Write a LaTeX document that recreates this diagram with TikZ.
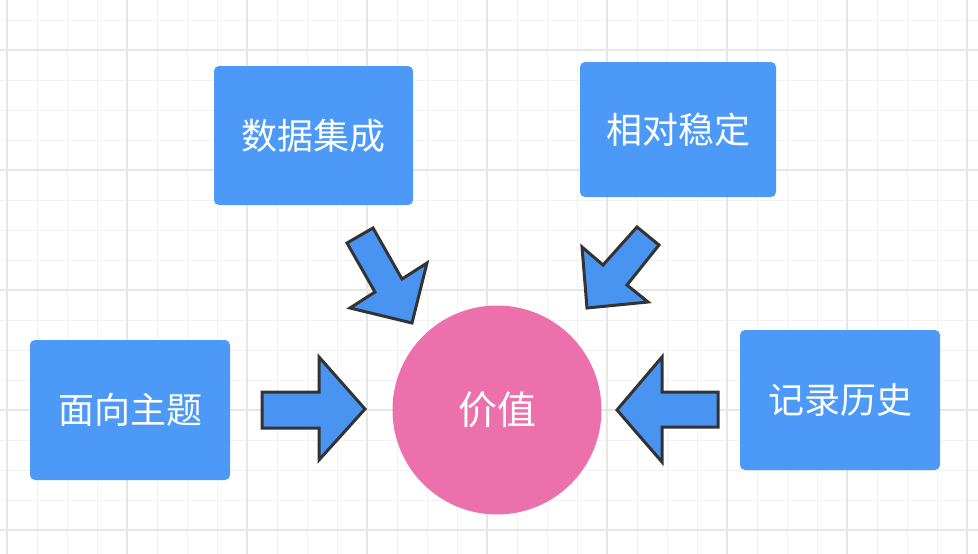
\documentclass[tikz,border=0pt]{standalone}
\usepackage{fontspec}
\newfontfamily\cjk{Noto Sans CJK SC}
\definecolor{boxblue}{HTML}{4C99F7}
\definecolor{arrowblue}{HTML}{4A94F1}
\definecolor{arrowedge}{HTML}{333333}
\definecolor{rosepink}{HTML}{EC70AC}
\definecolor{gridminor}{HTML}{F2F2F2}
\definecolor{gridmajor}{HTML}{E6E6E6}
\begin{document}
\begin{tikzpicture}[x=1pt,y=-1pt,
  topic/.style={rectangle, rounded corners=5pt, fill=boxblue, text=white,
    inner sep=0pt, font=\cjk\fontsize{36}{40}\selectfont},
  hub/.style={circle, fill=rosepink, text=white, inner sep=0pt,
    minimum size=209pt, font=\cjk\fontsize{39}{44}\selectfont},
  blockarrow/.style={draw=arrowedge, line width=3pt, fill=arrowblue, line join=miter},
  gridfine/.style={draw=gridminor, line width=1pt},
  gridbold/.style={draw=gridmajor, line width=1.5pt}]
\useasboundingbox (0,0) rectangle (978,554);
\fill[white] (0,0) rectangle (978,554);

% background grid
\foreach \x in {7,37,...,977} \draw[gridfine] (\x,0) -- (\x,554);
\foreach \y in {20,50,...,550} \draw[gridfine] (0,\y) -- (978,\y);
\foreach \x in {7,127,...,977} \draw[gridbold] (\x,0) -- (\x,554);
\foreach \y in {50,170,...,550} \draw[gridbold] (0,\y) -- (978,\y);

% topic boxes and the central value
\node[topic, minimum width=199pt, minimum height=139pt] (integ)  at (313.5,135.5) {数据集成};
\node[topic, minimum width=196pt, minimum height=135pt] (stable) at (678,129.5)   {相对稳定};
\node[topic, minimum width=200pt, minimum height=140pt] (subj)   at (130,410)     {面向主题};
\node[topic, minimum width=200pt, minimum height=140pt] (hist)   at (840,400)     {记录历史};
\node[hub] (value) at (497,410) {价值};

% block arrows pointing at the value
\draw[blockarrow] (262,392) -- (319,392) -- (319,357) -- (365,409) -- (319,460) -- (319,428) -- (262,428) -- cycle;
\draw[blockarrow] (718,392) -- (662,392) -- (662,357) -- (617,410) -- (662,462) -- (662,427) -- (718,427) -- cycle;
\draw[blockarrow] (347,243) -- (373,228) -- (402,279) -- (427,263) -- (412,323) -- (350,308) -- (375,292) -- cycle;
\draw[blockarrow] (637,227) -- (659,245) -- (627,285) -- (648,302) -- (587,308) -- (582,247) -- (603,265) -- cycle;
\end{tikzpicture}
\end{document}
